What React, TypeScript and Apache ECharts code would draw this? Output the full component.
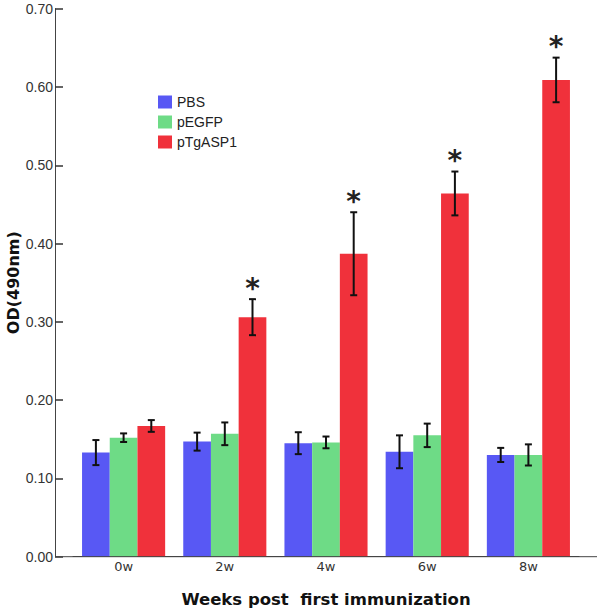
import React, { useEffect, useRef } from "react";
import * as echarts from "echarts";

const categories = ["0w", "2w", "4w", "6w", "8w"];
const seriesNames = ["PBS", "pEGFP", "pTgASP1"];
const pbs = [0.133, 0.147, 0.145, 0.134, 0.130];
const pbsErr = [0.016, 0.0115, 0.014, 0.021, 0.009];
const pegfp = [0.152, 0.157, 0.146, 0.155, 0.130];
const pegfpErr = [0.0055, 0.0145, 0.0075, 0.015, 0.0135];
const ptgasp1 = [0.167, 0.306, 0.387, 0.464, 0.609];
const ptgasp1Err = [0.0075, 0.023, 0.053, 0.028, 0.0285];
const significant = [false, true, true, true, true];
const yTicks = { min: 0, max: 0.7, interval: 0.1 };

const COLORS = ["#5858f4", "#6edb86", "#f0313b"];
const BAR_W = 27.7;
const CAP = 3.5;

export default function App() {
  const ref = useRef<HTMLDivElement>(null);
  useEffect(() => {
    if (!ref.current) return;
    const chart = echarts.init(ref.current, null, { renderer: "svg" });
    const values = [pbs, pegfp, ptgasp1];
    const errs = [pbsErr, pegfpErr, ptgasp1Err];

    const errRender = (offsetIdx: number, showStar: boolean) => (params: any, api: any) => {
      const i = api.value(0);
      const lo = api.coord([i, api.value(1)]);
      const hi = api.coord([i, api.value(2)]);
      const x = lo[0] + offsetIdx * BAR_W;
      const st = { stroke: "#111", lineWidth: 2 };
      const children: any[] = [
        { type: "line", shape: { x1: x, y1: lo[1], x2: x, y2: hi[1] }, style: st },
        { type: "line", shape: { x1: x - CAP, y1: hi[1], x2: x + CAP, y2: hi[1] }, style: st },
        { type: "line", shape: { x1: x - CAP, y1: lo[1], x2: x + CAP, y2: lo[1] }, style: st },
      ];
      if (showStar && significant[i]) {
        children.push({
          type: "text",
          x: x,
          y: hi[1] + 3,
          style: {
            text: "*",
            fontSize: 28,
            fontWeight: "bold",
            fontFamily: "DejaVu Sans",
            fill: "#222",
            align: "center",
            verticalAlign: "bottom",
          },
        });
      }
      return { type: "group", children };
    };

    const barSeries = seriesNames.map((name, s) => ({
      name,
      type: "bar",
      data: values[s],
      barWidth: BAR_W,
      barGap: "0%",
      itemStyle: { color: COLORS[s] },
      emphasis: { disabled: true },
    }));
    const errSeries = seriesNames.map((name, s) => ({
      type: "custom",
      name: name + "-err",
      renderItem: errRender(s - 1, s === 2),
      data: categories.map((_, i) => [i, values[s][i] - errs[s][i], values[s][i] + errs[s][i]]),
      encode: { x: 0, y: [1, 2] },
      z: 5,
      silent: true,
    }));

    chart.setOption({
      animation: false,
      backgroundColor: "#ffffff",
      grid: { left: 73, right: 21, top: 8.7, bottom: 55.3, containLabel: false, outerBoundsMode: "none" },
      legend: {
        orient: "vertical",
        left: 153,
        top: 90,
        itemWidth: 14,
        itemHeight: 13,
        itemGap: 6,
        icon: "rect",
        data: seriesNames,
        textStyle: { fontSize: 14, fontFamily: "Liberation Sans", color: "#222" },
      },
      xAxis: {
        type: "category",
        data: categories,
        name: "Weeks post  first immunization",
        nameLocation: "middle",
        nameGap: 34,
        nameMoveOverlap: false,
        nameTextStyle: { fontSize: 16.5, fontWeight: "bold", fontFamily: "DejaVu Sans", color: "#111" },
        axisLine: { lineStyle: { color: "#444", width: 1 } },
        axisTick: { inside: true, length: 5, alignWithLabel: true, lineStyle: { color: "#333", width: 1.5 } },
        axisLabel: { fontSize: 13, fontFamily: "DejaVu Sans", color: "#333", margin: 3 },
      },
      yAxis: {
        type: "value",
        min: yTicks.min,
        max: yTicks.max,
        interval: yTicks.interval,
        offset: 18,
        name: "OD(490nm)",
        nameLocation: "middle",
        nameGap: 34,
        nameMoveOverlap: false,
        nameTextStyle: { fontSize: 16, fontWeight: "bold", fontFamily: "DejaVu Sans", color: "#111" },
        axisLine: { show: true, lineStyle: { color: "#444", width: 1 } },
        axisTick: { show: true, inside: true, length: 8, lineStyle: { color: "#333", width: 1.5 } },
        axisLabel: {
          fontSize: 14,
          fontFamily: "Liberation Sans",
          color: "#333",
          margin: 2,
          formatter: (v: number) => v.toFixed(2),
        },
        splitLine: { show: false },
      },
      graphic: [
        {
          type: "line",
          shape: { x1: 55, y1: 556.7, x2: 597, y2: 556.7 },
          style: { stroke: "#444", lineWidth: 1 },
          z: 10,
        },
      ],
      series: [...barSeries, ...errSeries],
    });
    return () => chart.dispose();
  }, []);
  return <div ref={ref} style={{ width: 600, height: 612, position: "absolute", left: 0, top: 0 }} />;
}
